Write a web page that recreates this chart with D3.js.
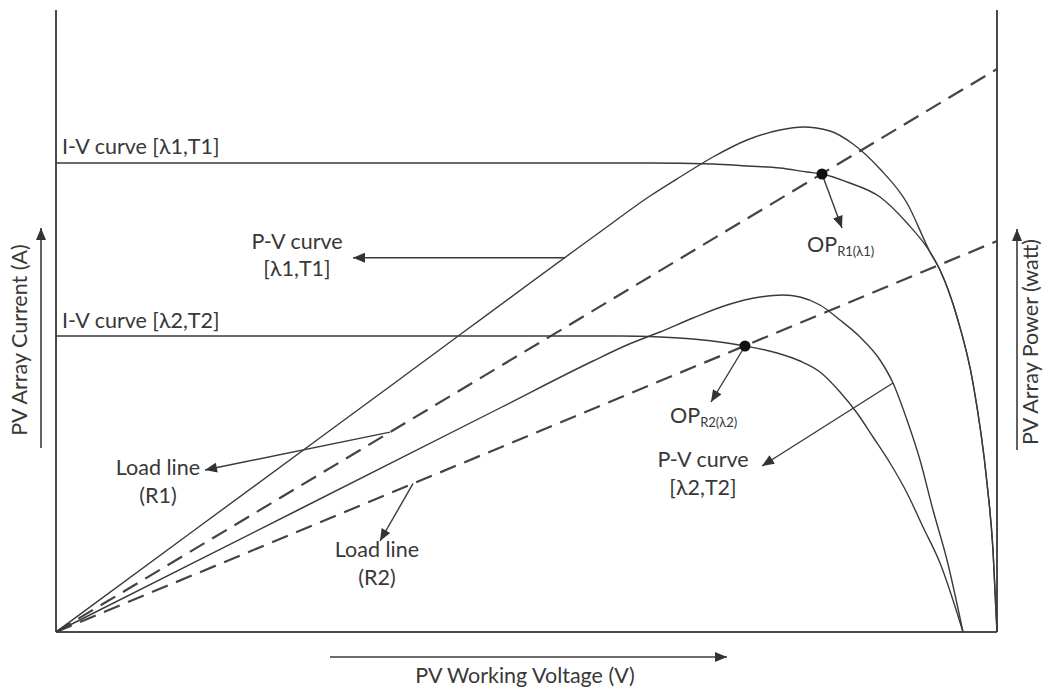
<!DOCTYPE html>
<html>
<head>
<meta charset="utf-8">
<script src="https://cdn.jsdelivr.net/npm/d3@7"></script>
<style>
  html, body { margin: 0; padding: 0; background: #fff; }
  svg { display: block; font-family: Lato, "Noto Sans", sans-serif; }
</style>
</head>
<body>
<svg id="chart" width="1044" height="691"></svg>
<script>
// Axis extents (arbitrary units): voltage, current and power
const voltageExtent = [0, 94.1];
const currentExtent = [0, 62.2];
const powerExtent = [0, 62.2];

// I-V characteristic, irradiance λ1 / temperature T1  [voltage, current]
const ivCurveL1 = [[0,46.9],[24.4,46.9],[44.4,46.9],[59.4,46.9],[65.7,46.8],[69.1,46.6],[72.4,46.4],
  [75.1,46.0],[76.6,45.8],[79.1,45.0],[82.4,43.5],[85.1,40.9],[87.4,38.0],[88.4,36.2],[90.1,31.5],
  [91.7,24.9],[93.1,14.9],[93.7,8.2],[94.1,0]];

// P-V characteristic, λ1 / T1  [voltage, power]
const pvCurveL1 = [[0,0],[14.4,10.6],[34.4,25.3],[54.4,40.0],[59.4,43.6],[62.4,45.5],[65.7,47.5],
  [69.1,49.2],[72.4,50.2],[74.7,50.5],[77.4,50.1],[79.7,48.8],[82.4,46.3],[85.1,42.9],[87.4,38.0],
  [88.4,36.2],[90.1,31.5],[91.7,24.9],[93.1,14.9],[93.7,8.2],[94.1,0]];

// I-V characteristic, λ2 / T2
const ivCurveL2 = [[0,29.6],[24.4,29.6],[44.4,29.6],[56.4,29.6],[60.4,29.5],[63.7,29.3],[67.1,28.9],
  [68.9,28.6],[72.1,27.9],[74.4,27.1],[76.4,26.0],[78.4,24.0],[80.1,21.9],[81.7,19.5],[83.4,16.9],
  [85.1,13.9],[86.7,10.5],[88.4,6.9],[90.7,0]];

// P-V characteristic, λ2 / T2
const pvCurveL2 = [[0,0],[24.4,12.3],[44.4,22.4],[53.7,27.1],[57.1,28.7],[60.4,30.0],[63.7,31.4],
  [67.1,32.7],[70.4,33.5],[72.7,33.7],[74.4,33.5],[76.4,32.7],[78.4,31.2],[80.4,29.5],[82.4,27.2],
  [83.7,24.9],[85.1,21.2],[86.4,17.2],[87.7,12.2],[89.1,7.2],[90.7,0]];

// Resistive load lines R1 and R2 (through the origin)
const loadLineR1 = [[0,0],[94.1,56.3]];
const loadLineR2 = [[0,0],[94.1,39.1]];

// Operating points where each load line meets its I-V curve
const opPointR1 = [76.6,45.8];
const opPointR2 = [68.9,28.6];

// Axis titles
const axisTitles = ["PV Working Voltage (V)", "PV Array Current (A)", "PV Array Power (watt)"];

const svg = d3.select("#chart");
const ink = "#3a3a3a";
const textInk = "#383838";

const x = d3.scaleLinear().domain(voltageExtent).range([56, 997]);
const yI = d3.scaleLinear().domain(currentExtent).range([632, 10]);
const yP = d3.scaleLinear().domain(powerExtent).range([632, 10]);

// arrow head
svg.append("defs").append("marker")
  .attr("id", "head")
  .attr("viewBox", "0 0 12 10")
  .attr("refX", 12).attr("refY", 5)
  .attr("markerWidth", 13).attr("markerHeight", 10)
  .attr("markerUnits", "userSpaceOnUse")
  .attr("orient", "auto")
  .append("path").attr("d", "M0,0 L12,5 L0,10 Z").attr("fill", "#333");

// frame: left current axis, bottom voltage axis, right power axis
const frame = svg.append("g").attr("stroke", "#4a4a4a").attr("stroke-width", 2).attr("fill", "none");
frame.append("line").attr("x1", x(0)).attr("x2", x(0)).attr("y1", yI(currentExtent[1])).attr("y2", yI(0));
frame.append("line").attr("x1", x(0)).attr("x2", x(voltageExtent[1])).attr("y1", yI(0)).attr("y2", yI(0));
frame.append("line").attr("x1", x(voltageExtent[1])).attr("x2", x(voltageExtent[1]))
  .attr("y1", yP(powerExtent[1])).attr("y2", yP(0));

const lineI = d3.line().x(d => x(d[0])).y(d => yI(d[1])).curve(d3.curveMonotoneX);
const lineP = d3.line().x(d => x(d[0])).y(d => yP(d[1])).curve(d3.curveMonotoneX);
const straightI = d3.line().x(d => x(d[0])).y(d => yI(d[1]));

// load lines (dashed)
[loadLineR1, loadLineR2].forEach(d => {
  svg.append("path").datum(d).attr("d", straightI)
    .attr("fill", "none").attr("stroke", "#444").attr("stroke-width", 2.2)
    .attr("stroke-dasharray", "17,9");
});

// characteristic curves
[[ivCurveL1, lineI], [ivCurveL2, lineI], [pvCurveL1, lineP], [pvCurveL2, lineP]].forEach(([d, gen]) => {
  svg.append("path").datum(d).attr("d", gen)
    .attr("fill", "none").attr("stroke", ink).attr("stroke-width", 1.4);
});

// value on a series at voltage v (linear between samples)
function valueAt(series, v) {
  for (let k = 1; k < series.length; k++) {
    const a = series[k - 1], b = series[k];
    if (v >= a[0] && v <= b[0]) return a[1] + (b[1] - a[1]) * (v - a[0]) / (b[0] - a[0]);
  }
  return series[series.length - 1][1];
}

function arrow(x1, y1, x2, y2, w) {
  svg.append("line").attr("x1", x1).attr("y1", y1).attr("x2", x2).attr("y2", y2)
    .attr("stroke", "#3a3a3a").attr("stroke-width", w || 1.4).attr("marker-end", "url(#head)");
}

// callout arrows from the curves to their labels
const pvA = 50.9;
arrow(x(pvA), yP(valueAt(pvCurveL1, pvA)), 353, yP(valueAt(pvCurveL1, pvA)));
const r1A = 33.4;
arrow(x(r1A), yI(valueAt(loadLineR1, r1A)), 205, 470);
const r2A = 35.7;
arrow(x(r2A), yI(valueAt(loadLineR2, r2A)), 380, 541);
arrow(x(opPointR1[0]), yI(opPointR1[1]), 842, 228);
arrow(x(opPointR2[0]), yI(opPointR2[1]), 711, 402);
const pv2A = 83.7;
arrow(x(pv2A), yP(valueAt(pvCurveL2, pv2A)), 762, 466);

// operating points
[opPointR1, opPointR2].forEach(p => {
  svg.append("circle").attr("cx", x(p[0])).attr("cy", yI(p[1])).attr("r", 5.5).attr("fill", "#111");
});

// axis direction arrows
arrow(41, 448, 41, 228, 1.6);
arrow(1017, 450, 1017, 229, 1.6);
arrow(330, 657, 727, 657, 1.6);

// text labels
const fs = 21.5;
function label(t, px, py, anchor) {
  return svg.append("text").attr("x", px).attr("y", py)
    .attr("text-anchor", anchor || "middle")
    .attr("font-size", fs).attr("fill", textInk).text(t);
}
label("I-V curve [λ1,T1]", 62, 154, "start");
label("I-V curve [λ2,T2]", 62, 328, "start");
label("P-V curve", 297, 249);
label("[λ1,T1]", 297, 276);
label("Load line", 158, 475);
label("(R1)", 158, 503);
label("Load line", 377, 557);
label("(R2)", 377, 585);
label("P-V curve", 703, 467);
label("[λ2,T2]", 703, 495);

function opLabel(px, py, sub) {
  const t = svg.append("text").attr("x", px).attr("y", py).attr("font-size", fs).attr("fill", textInk);
  t.append("tspan").text("OP");
  t.append("tspan").attr("font-size", 13).attr("dy", 4).text(sub);
}
opLabel(807, 252, "R1(λ1)");
opLabel(670, 423, "R2(λ2)");

label(axisTitles[0], 525, 683);
svg.append("text").attr("transform", "translate(27,340) rotate(-90)")
  .attr("text-anchor", "middle").attr("font-size", fs).attr("fill", textInk).text(axisTitles[1]);
svg.append("text").attr("transform", "translate(1038,342) rotate(-90)")
  .attr("text-anchor", "middle").attr("font-size", fs).attr("fill", textInk).text(axisTitles[2]);
</script>
</body>
</html>
